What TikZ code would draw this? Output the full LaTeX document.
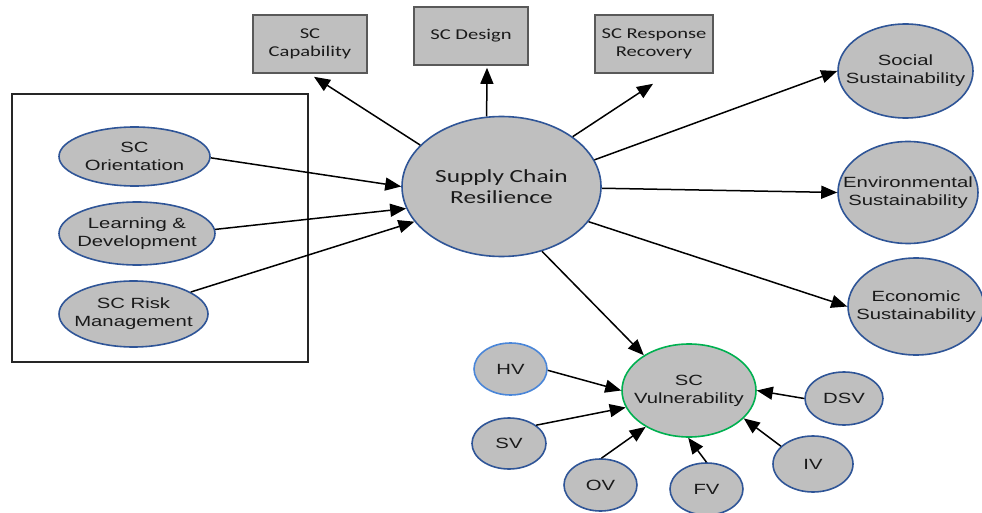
\documentclass[tikz,border=0pt]{standalone}
\usepackage{fontspec}
\usetikzlibrary{shapes.geometric,arrows.meta}
\newfontfamily\ovalfont{Liberation Sans}[FakeStretch=1.37]
\newfontfamily\boxfont{Carlito}[FakeStretch=1.37]
\definecolor{nodefill}{HTML}{BFBFBF}
\definecolor{rimblue}{HTML}{2F5597}
\definecolor{rimgreen}{HTML}{00B050}
\definecolor{rimlight}{HTML}{4A86D8}
\definecolor{boxrim}{HTML}{595959}
\definecolor{ink}{HTML}{1A1A1A}
\begin{document}
\begin{tikzpicture}[x=1pt,y=-1pt,
  oval/.style={ellipse, draw=rimblue, fill=nodefill, line width=1.6pt, inner sep=0pt},
  ovaltext/.style={align=center, text=ink, inner sep=0pt,
    font=\ovalfont\fontsize{14.8}{18}\selectfont},
  bigtext/.style={align=center, text=ink, inner sep=0pt,
    font=\boxfont\fontsize{18.5}{21}\selectfont},
  sqbox/.style={rectangle, draw=boxrim, fill=nodefill, line width=1.6pt, inner sep=0pt,
    align=center, text=ink, minimum width=114pt, minimum height=58pt,
    font=\boxfont\fontsize{15}{18.5}\selectfont},
  arr/.style={-{Triangle[length=16pt,width=13pt]}, line width=1.5pt, black},
]
\useasboundingbox (0,0) rectangle (982,513);

% enclosing frame of the three drivers
\node[draw=black!85, line width=1.4pt, minimum width=296pt, minimum height=268pt, inner sep=0pt]
  (frame) at (160,228) {};

% drivers
\node[oval, minimum width=151pt, minimum height=59pt,
  label={[ovaltext]center:SC\\Orientation}] (orient) at (134.5,156.5) {};
\node[oval, minimum width=156pt, minimum height=63pt,
  label={[ovaltext]center:Learning \&\\Development}] (learn) at (137,233.5) {};
\node[oval, minimum width=149pt, minimum height=66pt,
  label={[ovaltext]center:SC Risk\\Management}] (risk) at (133.5,314) {};

% central construct
\node[oval, minimum width=199pt, minimum height=140pt,
  label={[bigtext]center:Supply Chain\\Resilience}] (scr) at (501.5,186.5) {};

% capabilities above
\node[sqbox] (cap) at (310,44) {SC\\Capability};
\node[sqbox] (des) at (471,36) {SC Design};
\node[sqbox, minimum width=118pt] (resp) at (654,44) {SC Response\\Recovery};

% sustainability outcomes
\node[oval, minimum width=135pt, minimum height=94pt,
  label={[ovaltext]center:Social\\Sustainability}] (soc) at (905.5,71) {};
\node[oval, minimum width=140pt, minimum height=102pt,
  label={[ovaltext]center:Environmental\\Sustainability}] (env) at (908,192.5) {};
\node[oval, minimum width=136pt, minimum height=97pt,
  label={[ovaltext]center:Economic\\Sustainability}] (eco) at (916,306.5) {};

% vulnerability cluster
\node[oval, draw=rimgreen, minimum width=134pt, minimum height=93pt,
  label={[ovaltext]center:SC\\Vulnerability}] (vul) at (689,390.5) {};
\node[oval, draw=rimlight, minimum width=73pt, minimum height=52pt,
  label={[ovaltext]center:HV}] (hv) at (510.5,369) {};
\node[oval, minimum width=74pt, minimum height=51pt,
  label={[ovaltext]center:SV}] (sv) at (509,443.5) {};
\node[oval, minimum width=73pt, minimum height=52pt,
  label={[ovaltext]center:OV}] (ov) at (600.5,485) {};
\node[oval, minimum width=73pt, minimum height=52pt,
  label={[ovaltext]center:FV}] (fv) at (706.5,489) {};
\node[oval, minimum width=80pt, minimum height=56pt,
  label={[ovaltext]center:IV}] (iv) at (813,464) {};
\node[oval, minimum width=78pt, minimum height=53pt,
  label={[ovaltext]center:DSV}] (dsv) at (844,398.5) {};

% drivers -> resilience
\draw[arr] (orient.-1) -- (scr.180);
\draw[arr] (learn.3) -- (scr.193);
\draw[arr] (risk.21) -- (scr.202);

% resilience -> capabilities
\draw[arr] (scr.153) -- ([xshift=4pt,yshift=-3pt]cap.south);
\draw[arr] (scr.102) -- ([xshift=16pt,yshift=-2pt]des.south);
\draw[arr] (scr.35) -- ([xshift=-1pt,yshift=-10pt]resp.south);

% resilience -> sustainability
\draw[arr] (scr.16) -- (soc.west);
\draw[arr] (scr.-1) -- (env.west);
\draw[arr] (scr.-22) -- (eco.west);

% resilience -> vulnerability and its components
\draw[arr] (scr.-58) -- (vul.142);
\draw[arr] (hv.-2) -- (vul.180);
\draw[arr] (sv.34) -- (vul.195);
\draw[arr] (ov.88) -- (vul.220);
\draw[arr] (fv.north) -- (vul.269);
\draw[arr] (iv.151) -- (vul.-27);
\draw[arr] (dsv.west) -- (vul.east);
\end{tikzpicture}
\end{document}
